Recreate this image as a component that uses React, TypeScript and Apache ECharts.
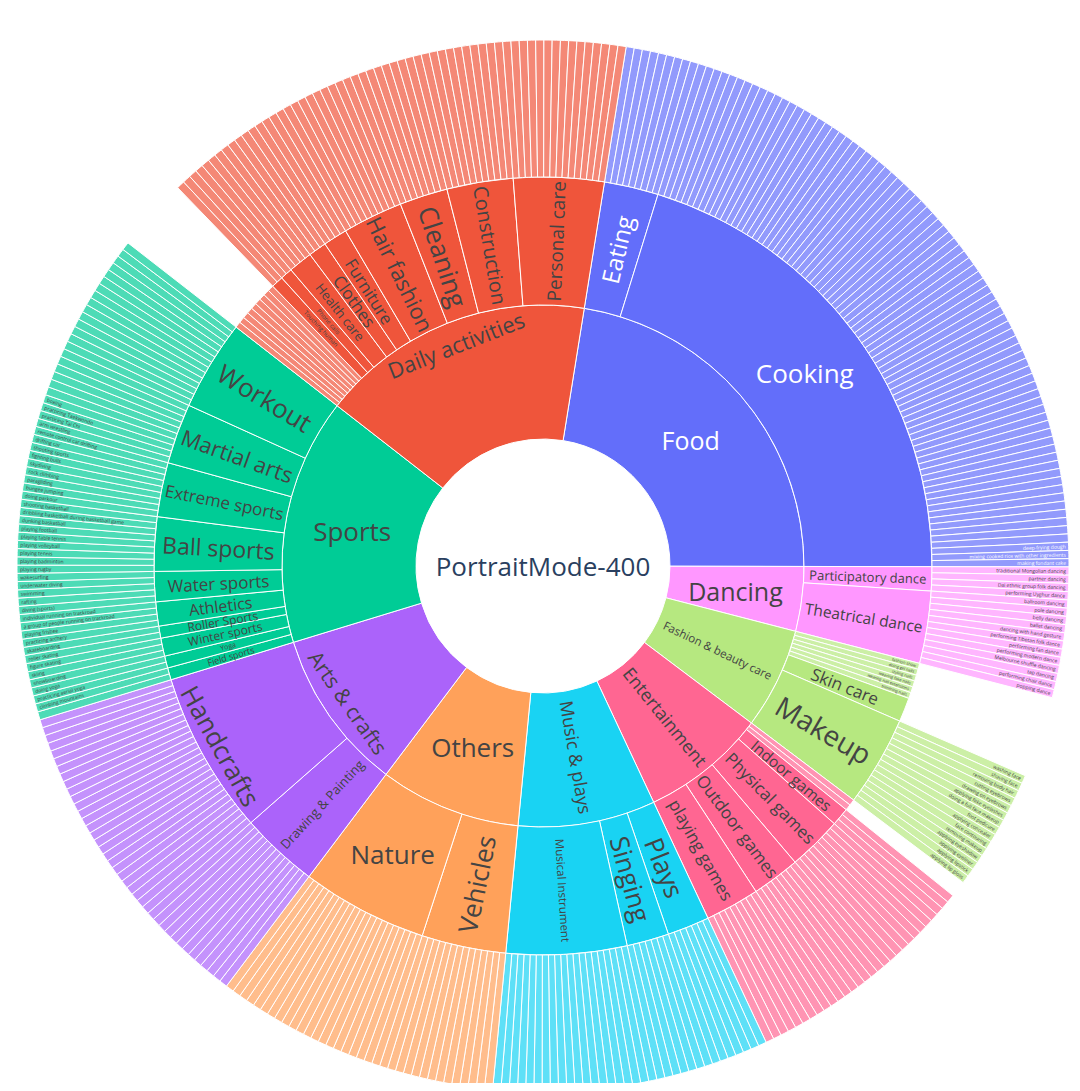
import React, { useEffect, useRef } from "react";
import * as echarts from "echarts";

// ---------------- data ----------------
const ROOT_LABEL = "PortraitMode-400";

// categories in clockwise order, starting just right of 12 o'clock
const CATEGORY_NAMES = [
  "Food",
  "Dancing",
  "Fashion & beauty care",
  "Entertainment",
  "Music & plays",
  "Others",
  "Arts & crafts",
  "Sports",
  "Daily activities",
];
const CATEGORY_COLORS = [
  "#636efa",
  "#ff97ff",
  "#b6e880",
  "#ff6692",
  "#19d3f3",
  "#ffa15a",
  "#ab63fa",
  "#00cc96",
  "#ef553b",
];

// [name, number of classes (or weight of a class), has its own classes in the outer ring]
type Sub = [string, number, boolean];

const foodSubs: Sub[] = [
  ["Eating", 9, true],
  ["Cooking", 81, true],
];
const dancingSubs: Sub[] = [
  ["Participatory dance", 4, true],
  ["Theatrical dance", 12, true],
];
const fashionSubs: Sub[] = [
  ["fashion show", 1, false],
  ["doing gel nails", 1, false],
  ["styling nails", 1, false],
  ["wearing fake nails", 1, false],
  ["wearing nail extensions", 1, false],
  ["trimming nails", 1, false],
  ["Skin care", 4, false],
  ["Makeup", 15, true],
];
const entertainmentSubs: Sub[] = [
  ["", 1, false],
  ["", 1, false],
  ["Indoor games", 3, true],
  ["Physical games", 9, true],
  ["Outdoor games", 8, true],
  ["playing games", 9, true],
];
const musicSubs: Sub[] = [
  ["Plays", 7, true],
  ["Singing", 7, true],
  ["Musical Instrument", 20, true],
];
const othersSubs: Sub[] = [
  ["Vehicles", 14, true],
  ["Nature", 21, true],
];
const artsSubs: Sub[] = [
  ["Drawing & Painting", 13, true],
  ["Handcrafts", 27, true],
];
const sportsSubs: Sub[] = [
  ["Field sports", 2, true],
  ["Yoga", 2, true],
  ["Winter sports", 3, true],
  ["Roller Sports", 2, true],
  ["Athletics", 4, true],
  ["Water sports", 5, true],
  ["Ball sports", 9, true],
  ["Extreme sports", 9, true],
  ["Martial arts", 10, true],
  ["Workout", 15, true],
];
const dailySubs: Sub[] = [
  ["", 1, false],
  ["", 1, false],
  ["", 1, false],
  ["", 1, false],
  ["", 1, false],
  ["", 1, false],
  ["", 1, false],
  ["", 1, false],
  ["", 1, false],
  ["Touching human", 2, true],
  ["Phone calls", 2, true],
  ["Health care", 4, true],
  ["Clothes", 3, true],
  ["Furniture", 4, true],
  ["Hair fashion", 10, true],
  ["Cleaning", 8, true],
  ["Construction", 11, true],
  ["Personal care", 15, true],
];
const SUBCATEGORIES: Sub[][] = [
  foodSubs,
  dancingSubs,
  fashionSubs,
  entertainmentSubs,
  musicSubs,
  othersSubs,
  artsSubs,
  sportsSubs,
  dailySubs,
];

// class names that could be read (clockwise order); unreadable ones stay blank
const LEAF_NAMES: Record<string, string[]> = {
  "Participatory dance": [
    "traditional Mongolian dancing",
    "partner dancing",
    "Dai ethnic group folk dancing",
    "performing Uyghur dance",
  ],
  "Theatrical dance": [
    "ballroom dancing",
    "pole dancing",
    "belly dancing",
    "ballet dancing",
    "dancing with hand gesture",
    "performing Tibetan folk dance",
    "performing fan dance",
    "performing modern dance",
    "Melbourne shuffle dancing",
    "tap dancing",
    "performing chair dance",
    "popping dance",
  ],
  Makeup: [
    "washing face",
    "shaving face",
    "removing body hair",
    "cutting eyebrows",
    "drawing on eyebrows",
    "applying fake eyelashes",
    "doing a full face makeup",
    "foot pedicure",
    "applying concealer",
    "face contouring",
    "removing makeup",
    "applying eyeshadow",
    "applying eyeliner",
    "applying lipstick",
    "applying lip gloss",
  ],
  "Field sports": ["", "climbing mountains"],
  Yoga: ["practicing aerial yoga", "doing yoga"],
  "Winter sports": ["snowboarding", "skiing", "figure skating"],
  "Roller Sports": ["roller skating", "skateboarding"],
  Athletics: [
    "practicing archery",
    "playing frisbee",
    "a group of people running on trackroad",
    "individual running on trackroad",
  ],
  "Water sports": ["diving (sports)", "rafting", "swimming", "underwater diving", "wakesurfing"],
  "Ball sports": [
    "playing rugby",
    "playing badminton",
    "playing tennis",
    "playing volleyball",
    "playing table tennis",
    "playing football",
    "dunking basketball",
    "dribbling basketball during basketball game",
    "shooting basketball",
  ],
  "Extreme sports": [
    "doing parkour",
    "bungee jumping",
    "paragliding",
    "rock climbing",
    "skydiving",
    "fighting bulls",
    "shooting sports",
    "drifting car",
    "remote control car drifting",
  ],
  "Martial arts": ["arm wrestling", "practicing Tai Chi", "practicing Taekwondo", "boxing"],
};
const LEAF_NAMES_LAST: Record<string, string[]> = {
  Cooking: ["deep-frying dough", "mixing cooked rice with other ingredients", "making fondant cake"],
};

// ---------------- styles ----------------
const FONT = "'Open Sans', Verdana, Arial, sans-serif";
const DARK = "#444";
const CX = 535;
const CY = 558;

const LABEL_SIZE: Record<string, number> = {
  Food: 25,
  Dancing: 25,
  "Fashion & beauty care": 11.5,
  Entertainment: 18,
  "Music & plays": 18,
  Others: 26,
  "Arts & crafts": 21,
  Sports: 26,
  "Daily activities": 22,
  Eating: 24,
  Cooking: 26,
  "Participatory dance": 13,
  "Theatrical dance": 15.5,
  "Skin care": 17,
  Makeup: 28,
  "Indoor games": 15.5,
  "Physical games": 17,
  "Outdoor games": 17,
  "playing games": 17,
  Plays: 26,
  Singing: 26,
  "Musical Instrument": 11.5,
  Vehicles: 26,
  Nature: 26,
  "Drawing & Painting": 13,
  Handcrafts: 26,
  "Field sports": 9,
  Yoga: 7,
  "Winter sports": 12,
  "Roller Sports": 12,
  Athletics: 16,
  "Water sports": 17,
  "Ball sports": 23,
  "Extreme sports": 17,
  "Martial arts": 22,
  Workout: 26,
  "Touching human": 6,
  "Phone calls": 6,
  "Health care": 13,
  Clothes: 17,
  Furniture: 17,
  "Hair fashion": 22,
  Cleaning: 26,
  Construction: 20,
  "Personal care": 19,
};
const LABEL_ROTATE: Record<string, number | string> = {
  Food: 0,
  Dancing: 0,
  Sports: 0,
  Others: 0,
  Cooking: 0,
  Nature: 0,
  "Daily activities": "tangential",
  "Arts & crafts": "tangential",
  Handcrafts: "tangential",
};
// tangential labels sit near the outer edge of their ring: blank lines push them outward
// (positive: blank lines after the text, negative: before)
const LABEL_SHIFT_LINES: Record<string, number> = {
  "Daily activities": 4,
  "Arts & crafts": -4,
  Handcrafts: -4,
};
const SHIFT_LINE_HEIGHT = 22;

function fade(hex: string, a = 0.7) {
  const n = parseInt(hex.slice(1), 16);
  const mix = (c: number) => Math.round(c * a + 255 * (1 - a));
  return `rgb(${mix((n >> 16) & 255)},${mix((n >> 8) & 255)},${mix(n & 255)})`;
}

function nodeLabel(name: string, color: string) {
  const l: any = { fontSize: LABEL_SIZE[name], color };
  if (LABEL_ROTATE[name] !== undefined) l.rotate = LABEL_ROTATE[name];
  const shift = LABEL_SHIFT_LINES[name];
  if (shift) {
    const blanks = "\n".repeat(Math.abs(shift));
    l.formatter = shift > 0 ? name + blanks : blanks + name;
    l.lineHeight = SHIFT_LINE_HEIGHT;
  }
  return l;
}

function leafNames(sub: string, count: number) {
  const head = LEAF_NAMES[sub] || [];
  const tail = LEAF_NAMES_LAST[sub] || [];
  const out: string[] = [];
  for (let i = 0; i < count; i++) {
    const t = i - (count - tail.length);
    out.push(t >= 0 ? tail[t] : head[i] || "");
  }
  return out;
}

function buildData() {
  return CATEGORY_NAMES.map((cat, ci) => {
    const color = CATEGORY_COLORS[ci];
    const text = cat === "Food" ? "#fff" : DARK;
    const light = fade(color);
    const children = SUBCATEGORIES[ci].map(([name, size, hasClasses]) => {
      if (!hasClasses) {
        const big = LABEL_SIZE[name] !== undefined;
        return {
          name,
          value: size,
          itemStyle: { color: big ? color : light },
          label: big
            ? nodeLabel(name, text)
            : { fontSize: 4, color: text, align: "right", distance: 3 },
        };
      }
      return {
        name,
        itemStyle: { color },
        label: nodeLabel(name, text),
        children: leafNames(name, size).map((leaf) => ({
          name: leaf,
          value: 1,
          itemStyle: { color: light },
          label: { color: text },
        })),
      };
    });
    return { name: cat, itemStyle: { color }, label: nodeLabel(cat, text), children };
  });
}

export default function App() {
  const ref = useRef<HTMLDivElement>(null);
  useEffect(() => {
    if (!ref.current) return;
    const chart = echarts.init(ref.current, undefined, { renderer: "svg" });
    chart.setOption({
      animation: false,
      graphic: [
        {
          type: "text",
          x: CX,
          y: CY,
          z: 10,
          style: {
            text: ROOT_LABEL,
            align: "center",
            verticalAlign: "middle",
            fontSize: 26,
            fontFamily: FONT,
            fill: "#2a3f5f",
          },
        },
      ],
      series: [
        {
          type: "sunburst",
          center: [CX, CY],
          startAngle: 80.9,
          sort: null,
          nodeClick: false,
          emphasis: { disabled: true },
          itemStyle: { borderColor: "#fff", borderWidth: 1 },
          label: { fontFamily: FONT, color: DARK, rotate: "radial" },
          levels: [
            {},
            { r0: 127, r: 261 },
            { r0: 261, r: 389 },
            { r0: 389, r: 526, label: { fontSize: 5, align: "right", distance: 3 } },
          ],
          data: buildData(),
        },
      ],
    });
    return () => chart.dispose();
  }, []);
  return <div ref={ref} style={{ width: 1064, height: 1075 }} />;
}
